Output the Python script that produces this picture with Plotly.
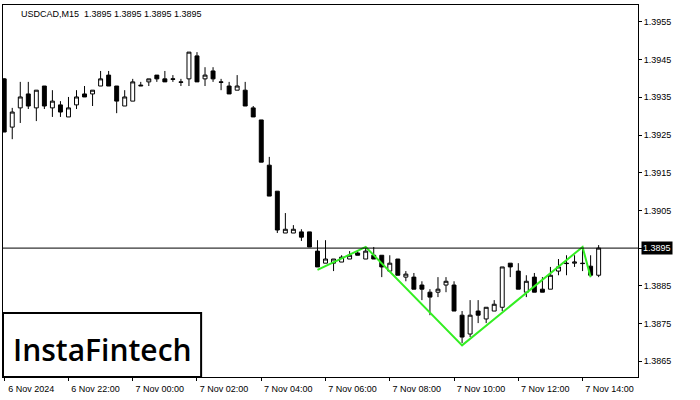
import plotly.graph_objects as go

opens = [1.39399,1.39271,1.39322,1.39359,1.39322,1.39380,1.39322,1.39330,1.39298,1.39330,
         1.39359,1.39359,1.39380,1.39409,1.39380,1.39327,1.39340,1.39380,1.39391,1.39409,
         1.39399,1.39399,1.39391,1.39399,1.39460,1.39399,1.39420,1.39391,1.39380,1.39369,
         1.39369,1.39322,1.39290,1.39170,1.39101,1.38990,1.38990,1.38993,1.38993,1.38942,
         1.38910,1.38910,1.38913,1.38921,1.38937,1.38921,1.38931,1.38931,1.38889,1.38921,
         1.38873,1.38873,1.38852,1.38833,1.38833,1.38852,1.38852,1.38772,1.38722,1.38783,
         1.38762,1.38783,1.38793,1.38910,1.38889,1.38833,1.38873,1.38841,1.38841,1.38889,
         1.38910,1.38910,1.38910,1.38902,1.38878]
highs = [1.39401,1.39322,1.39391,1.39391,1.39369,1.39380,1.39369,1.39340,1.39351,1.39369,
         1.39380,1.39369,1.39420,1.39420,1.39380,1.39369,1.39399,1.39391,1.39399,1.39409,
         1.39420,1.39409,1.39399,1.39470,1.39470,1.39430,1.39430,1.39399,1.39391,1.39409,
         1.39391,1.39327,1.39290,1.39192,1.39101,1.39043,1.39011,1.39000,1.38993,1.38971,
         1.38971,1.38921,1.38931,1.38942,1.38942,1.38953,1.38953,1.38931,1.38931,1.38921,
         1.38889,1.38884,1.38862,1.38841,1.38873,1.38873,1.38862,1.38783,1.38812,1.38812,
         1.38793,1.38812,1.38900,1.38910,1.38910,1.38878,1.38884,1.38873,1.38900,1.38921,
         1.38931,1.38931,1.38953,1.38931,1.38958]
lows = [1.39258,1.39239,1.39282,1.39319,1.39287,1.39319,1.39298,1.39298,1.39298,1.39319,
        1.39351,1.39327,1.39380,1.39380,1.39308,1.39327,1.39340,1.39380,1.39380,1.39391,
        1.39391,1.39391,1.39380,1.39380,1.39391,1.39380,1.39391,1.39369,1.39359,1.39369,
        1.39327,1.39298,1.39178,1.39088,1.38990,1.38990,1.38990,1.38969,1.38953,1.38900,
        1.38910,1.38889,1.38913,1.38921,1.38931,1.38921,1.38921,1.38873,1.38889,1.38878,
        1.38862,1.38841,1.38812,1.38772,1.38820,1.38833,1.38783,1.38698,1.38714,1.38751,
        1.38751,1.38783,1.38783,1.38873,1.38841,1.38820,1.38833,1.38833,1.38841,1.38878,
        1.38878,1.38900,1.38889,1.38873,1.38873]
closes = [1.39258,1.39311,1.39351,1.39327,1.39369,1.39327,1.39340,1.39311,1.39322,1.39351,
          1.39351,1.39369,1.39399,1.39380,1.39340,1.39351,1.39391,1.39382,1.39399,1.39399,
          1.39391,1.39398,1.39390,1.39470,1.39391,1.39409,1.39399,1.39390,1.39359,1.39380,
          1.39327,1.39298,1.39178,1.39088,1.38998,1.39000,1.39000,1.38979,1.38953,1.38900,
          1.38921,1.38921,1.38926,1.38931,1.38931,1.38942,1.38921,1.38900,1.38910,1.38878,
          1.38881,1.38841,1.38841,1.38820,1.38841,1.38862,1.38783,1.38714,1.38772,1.38772,
          1.38793,1.38801,1.38900,1.38900,1.38841,1.38862,1.38833,1.38833,1.38878,1.38900,
          1.38909,1.38913,1.38909,1.38878,1.38950]

tick_idx = [0, 8, 16, 24, 32, 40, 48, 56, 64, 72]
tick_labels = ["6 Nov 2024", "6 Nov 22:00", "7 Nov 00:00", "7 Nov 02:00", "7 Nov 04:00",
               "7 Nov 06:00", "7 Nov 08:00", "7 Nov 10:00", "7 Nov 12:00", "7 Nov 14:00"]
y_ticks = [1.3865, 1.3875, 1.3885, 1.3895, 1.3905, 1.3915, 1.3925, 1.3935, 1.3945, 1.3955]

pattern_x = [39, 45, 57, 72, 73]
pattern_y = [1.38892, 1.38953, 1.38692, 1.38953, 1.38873]
current_price = 1.3895

x = list(range(len(opens)))

fig = go.Figure()
fig.add_trace(go.Candlestick(
    x=x, open=opens, high=highs, low=lows, close=closes,
    increasing=dict(line=dict(color="black", width=1), fillcolor="white"),
    decreasing=dict(line=dict(color="black", width=1), fillcolor="black"),
    whiskerwidth=0, showlegend=False, hoverinfo="skip"))
fig.add_trace(go.Scatter(x=pattern_x, y=pattern_y, mode="lines",
                         line=dict(color="#33ee22", width=2), showlegend=False))
fig.add_hline(y=current_price, line=dict(color="black", width=1))

fig.update_layout(
    width=700, height=400, margin=dict(l=3, r=62, t=5, b=23),
    paper_bgcolor="white", plot_bgcolor="white",
    font=dict(family="Liberation Sans, Arial", size=10, color="black"),
    xaxis=dict(range=[-0.15, 78.9], rangeslider=dict(visible=False), automargin=False,
               tickvals=tick_idx, ticktext=tick_labels, ticks="outside", ticklen=3,
               tickcolor="black", showgrid=False, zeroline=False,
               showline=True, linecolor="black", mirror=True, ticklabelshift=27,
               tickfont=dict(size=9)),
    yaxis=dict(range=[1.38608, 1.39595], side="right", tickvals=y_ticks, automargin=False,
               tickformat=".4f", ticks="outside", ticklen=3, tickcolor="black",
               showgrid=False, zeroline=False, showline=True, linecolor="black",
               mirror=True, tickfont=dict(size=9)),
)
fig.add_annotation(xref="paper", yref="y", x=1, y=current_price, xanchor="left",
                   text="1.3895", showarrow=False, bgcolor="black",
                   font=dict(color="white", size=9), xshift=3, borderpad=1)
fig.add_annotation(xref="paper", yref="paper", x=0.025, y=0.995, xanchor="left",
                   yanchor="top", text="USDCAD,M15  1.3895 1.3895 1.3895 1.3895",
                   showarrow=False, font=dict(size=9))
fig.add_shape(type="rect", xref="paper", yref="paper", x0=0, x1=0.312, y0=0, y1=0.172,
              fillcolor="white", line=dict(color="black", width=2), layer="above")
fig.add_annotation(xref="paper", yref="paper", x=0.012, y=0.075, xanchor="left",
                   yanchor="middle", text="InstaFintech", showarrow=False,
                   font=dict(size=30, color="black", family="Open Sans, Liberation Sans",
                             weight=600))
fig.write_html("out.html", post_script="document.body.style.margin='0';",
               config={"displayModeBar": False})
